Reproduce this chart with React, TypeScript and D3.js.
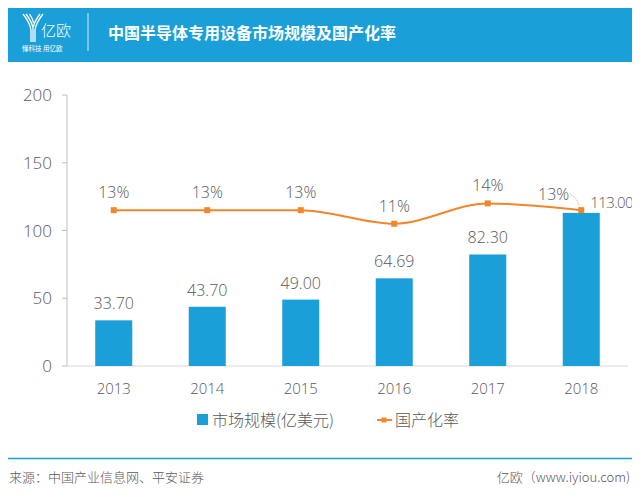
import React from "react";
import * as d3 from "d3";

const years = ["2013", "2014", "2015", "2016", "2017", "2018"];
const marketSize = [33.7, 43.7, 49.0, 64.69, 82.3, 113.0];
const localRate = [13, 13, 13, 11, 14, 13];
const yTicks = [0, 50, 100, 150, 200];

const W = 640;
const H = 500;
const FONT = "'Noto Sans CJK SC', 'Open Sans', sans-serif";
const NUM = "'Open Sans', 'Noto Sans', sans-serif";
const BLUE = "#1b9fd8";
const ORANGE = "#f0872a";
const GREY = "#595959";

export default function App() {
  const xc = d3.scalePoint<string>().domain(years).range([67, 628]).padding(0.5);
  const y = d3.scaleLinear().domain([0, 200]).range([366, 95]);
  const y2 = d3.scaleLinear().domain([-10, 30]).range([366, 95]);
  const bw = 37;

  const line = d3
    .line<number>()
    .x((_, i) => xc(years[i])!)
    .y((d) => y2(d))
    .curve(d3.curveMonotoneX);

  return (
    <div style={{ margin: -8 }}>
      <svg width={W} height={H} style={{ display: "block", fontFamily: FONT }}>
        <rect x={0} y={0} width={W} height={H} fill="#fff" />
        {/* header */}
        <rect x={0} y={0} width={W} height={62} fill={BLUE} />
        <g fill="none" stroke="#fff" strokeWidth={1.3}>
          <path d="M23,14 Q30,23 31,30 L31,42" />
          <path d="M26,14 Q32,22 33,28 L33,42" />
          <path d="M43,14 Q36,23 35,30 L35,42" />
          <path d="M40,14 Q34,22 33.5,27" />
          <path d="M29.5,14 Q33,19 33.5,23" />
        </g>
        <text x={41} y={36} fill="#fff" fontSize={15} fontWeight={300}>亿欧</text>
        <text x={22} y={51} fill="#fff" fontSize={6.5}>懂科技 用亿欧</text>
        <line x1={88} x2={88} y1={13} y2={51} stroke="#fff" strokeWidth={1} opacity={0.8} />
        <text x={108} y={39} fill="#fff" fontSize={16} fontWeight={700}>中国半导体专用设备市场规模及国产化率</text>

        {/* y axis */}
        <line x1={67} x2={67} y1={95} y2={366} stroke="#bfbfbf" />
        {yTicks.map((t) => (
          <g key={t}>
            <line x1={62} x2={67} y1={y(t)} y2={y(t)} stroke="#bfbfbf" />
            <text x={52} y={y(t)} dy="0.36em" textAnchor="end" fill={GREY} fontSize={17} fontWeight={300} fontFamily={NUM}>
              {t}
            </text>
          </g>
        ))}
        <line x1={67} x2={628} y1={366} y2={366} stroke="#d9d9d9" />

        {/* bars */}
        {marketSize.map((v, i) => {
          const cx = xc(years[i])!;
          return (
            <g key={years[i]}>
              <rect x={cx - bw / 2} y={y(v)} width={bw} height={366 - y(v)} fill={BLUE} />
              {i < 5 ? (
                <text x={cx} y={y(v) - 11} textAnchor="middle" fill={GREY} fontSize={16} fontWeight={300} fontFamily={NUM}>
                  {v.toFixed(2)}
                </text>
              ) : (
                <text x={cx + 9} y={y(v) - 5} textAnchor="start" fill={GREY} fontSize={15} fontWeight={300} fontFamily={NUM} letterSpacing={-0.6}>
                  {v.toFixed(2)}
                </text>
              )}
              <text x={cx} y={394} textAnchor="middle" fill={GREY} fontSize={15} fontWeight={300} fontFamily={NUM}>
                {years[i]}
              </text>
            </g>
          );
        })}

        {/* line */}
        <path d={line(localRate) || ""} fill="none" stroke={ORANGE} strokeWidth={2} />
        {localRate.map((v, i) => {
          const cx = xc(years[i])!;
          const cy = y2(v);
          const last = i === localRate.length - 1;
          return (
            <g key={"r" + i}>
              <rect x={cx - 3} y={cy - 3} width={6} height={6} fill={ORANGE} />
              {last ? (
                <>
                  <path d={`M${cx - 12},${cy - 17} Q${cx - 4},${cy - 12} ${cx - 2},${cy - 4}`} fill="none" stroke="#d9d9d9" strokeWidth={1} />
                  <text x={cx - 12} y={cy - 10} textAnchor="end" fill={GREY} fontSize={16} fontWeight={300} fontFamily={NUM}>
                    {v}%
                  </text>
                </>
              ) : (
                <text x={cx} y={cy - 12} textAnchor="middle" fill={GREY} fontSize={16} fontWeight={300} fontFamily={NUM}>
                  {v}%
                </text>
              )}
            </g>
          );
        })}

        {/* legend */}
        <rect x={197} y={414} width={11} height={11} fill={BLUE} />
        <text x={212} y={420} dy="0.35em" fill={GREY} fontSize={16} fontWeight={300}>市场规模(亿美元)</text>
        <line x1={377} x2={392} y1={420} y2={420} stroke={ORANGE} strokeWidth={2} />
        <rect x={381.5} y={417.5} width={5} height={5} fill={ORANGE} />
        <text x={395} y={420} dy="0.35em" fill={GREY} fontSize={16} fontWeight={300}>国产化率</text>

        {/* footer */}
        <line x1={0} x2={W} y1={458.5} y2={458.5} stroke={BLUE} strokeWidth={1.5} />
        <text x={9} y={477} dy="0.35em" fill={GREY} fontSize={13} fontWeight={300}>来源：中国产业信息网、平安证券</text>
        <text x={630} y={477} dy="0.35em" textAnchor="end" fill={GREY} fontSize={13} fontWeight={300}>亿欧（www.iyiou.com)</text>
      </svg>
    </div>
  );
}
